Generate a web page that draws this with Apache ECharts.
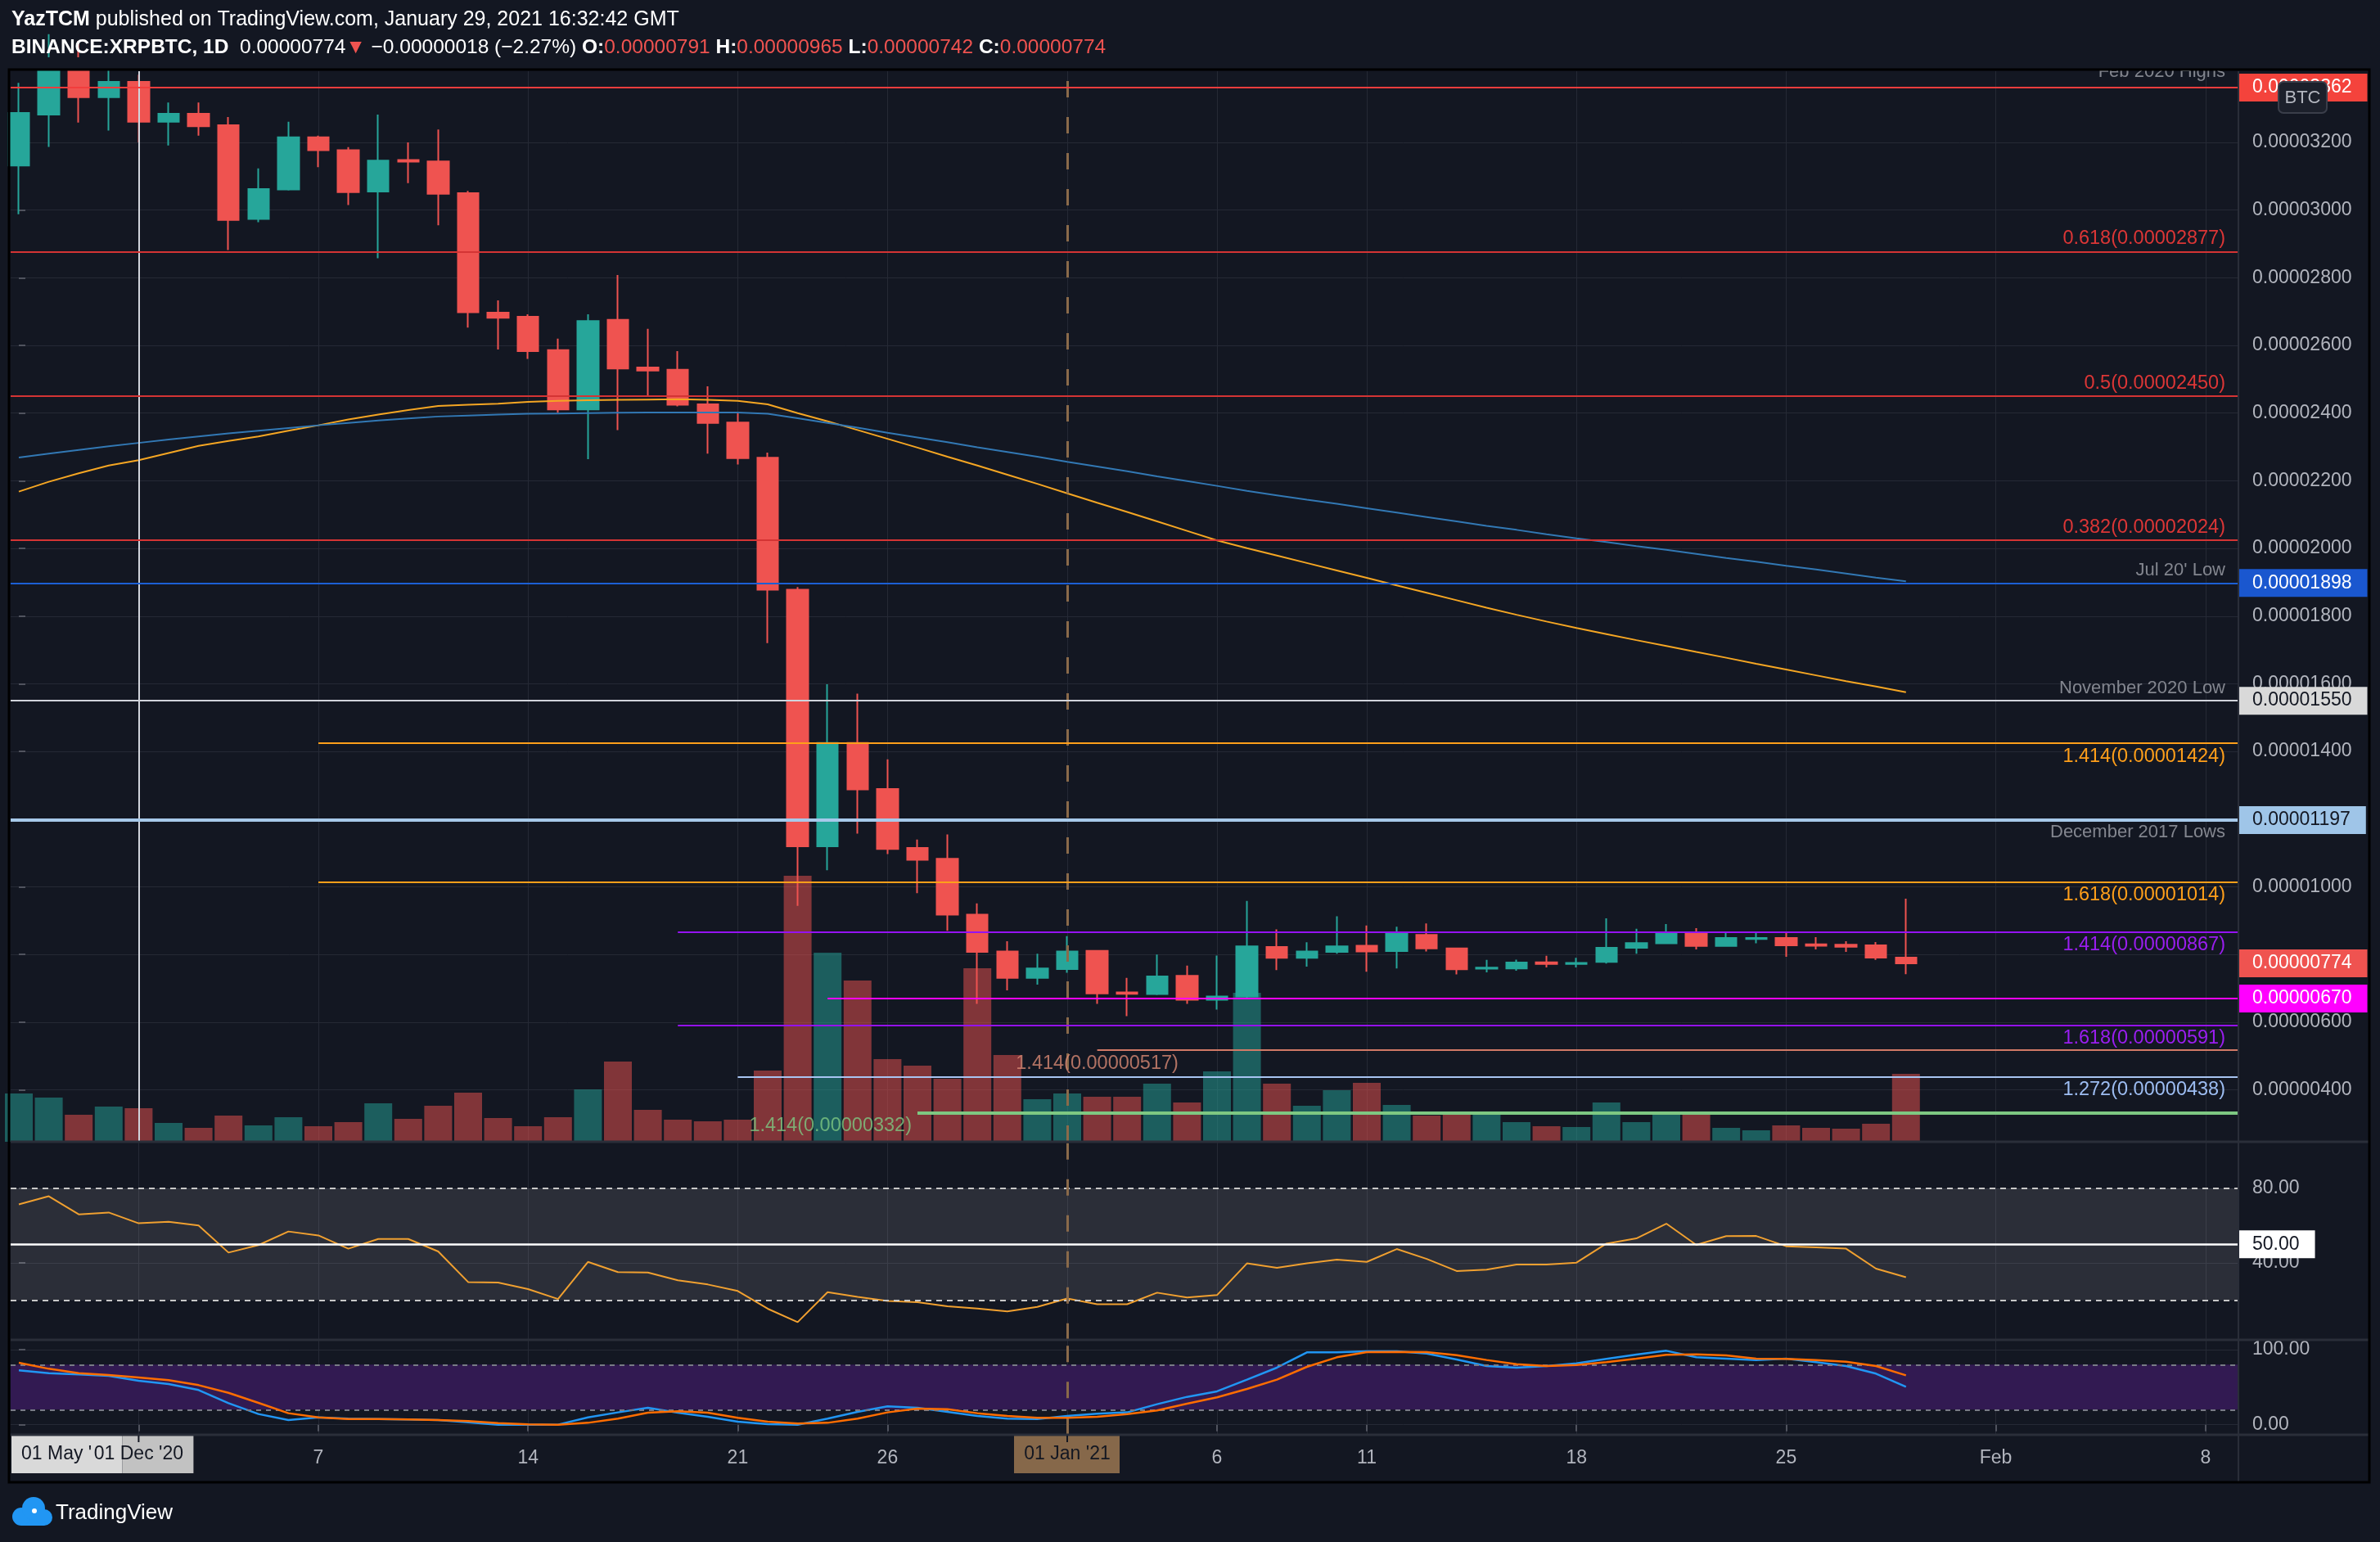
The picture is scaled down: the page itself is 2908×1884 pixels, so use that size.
<!DOCTYPE html>
<html>
<head>
<meta charset="utf-8">
<title>XRPBTC 1D</title>
<script src="https://cdn.jsdelivr.net/npm/echarts@6/dist/echarts.min.js"></script>
<style>
  html, body { margin: 0; padding: 0; background: #131722; }
  #main { width: 2908px; height: 1884px; }
</style>
</head>
<body>
<div id="main"></div>
<script>
// prices are in satoshi (1e-8 BTC), one candle per day from 27 Nov 2020
var days = ['2020-11-27','2020-11-28','2020-11-29','2020-11-30',
  '2020-12-01','2020-12-02','2020-12-03','2020-12-04','2020-12-05','2020-12-06','2020-12-07','2020-12-08',
  '2020-12-09','2020-12-10','2020-12-11','2020-12-12','2020-12-13','2020-12-14','2020-12-15','2020-12-16',
  '2020-12-17','2020-12-18','2020-12-19','2020-12-20','2020-12-21','2020-12-22','2020-12-23','2020-12-24',
  '2020-12-25','2020-12-26','2020-12-27','2020-12-28','2020-12-29','2020-12-30','2020-12-31',
  '2021-01-01','2021-01-02','2021-01-03','2021-01-04','2021-01-05','2021-01-06','2021-01-07','2021-01-08',
  '2021-01-09','2021-01-10','2021-01-11','2021-01-12','2021-01-13','2021-01-14','2021-01-15','2021-01-16',
  '2021-01-17','2021-01-18','2021-01-19','2021-01-20','2021-01-21','2021-01-22','2021-01-23','2021-01-24',
  '2021-01-25','2021-01-26','2021-01-27','2021-01-28','2021-01-29'];

var openP  = [3132,3282,3445,3334,3379,3261,3285,3251,2974,3061, 3215,3177,3055,3148,3144,3050,2697,2685,2586,2411,
              2676,2535,2528,2426,2372,2268,1878,1120,1425,1289, 1115,1083,918,809,731,757,811,688,683,737,
              666,676,822,790,808,826,810,858,818,758, 759,777,772,778,820,833,866,825,846,849, 830,829,827,791];
var highP  = [3376,3520,3500,3440,3400,3318,3318,3275,3123,3261, 3220,3186,3282,3200,3238,3057,2733,2692,2620,2692,
              2808,2649,2583,2479,2402,2283,1886,1599,1571,1377, 1140,1155,951,839,802,854,812,731,800,767,
              797,958,874,836,913,886,882,892,820,784, 785,796,790,907,876,890,878,866,865,866, 851,839,837,965];
var lowP   = [2988,3187,3259,3235,3200,3191,3220,2882,2964,3058, 3127,3015,2858,3080,2955,2653,2588,2560,2401,2264,
              2350,2449,2420,2280,2248,1720,944,1049,1157,1097, 981,870,654,694,711,746,654,618,680,654,
              637,670,754,764,802,749,759,809,741,747, 752,762,762,773,802,831,815,825,833,793, 815,808,784,742];
var closeP = [3287,3445,3334,3379,3261,3285,3248,2971,3062,3215, 3177,3053,3146,3143,3048,2698,2682,2583,2411,2672,
              2532,2526,2425,2371,2267,1878,1120,1425,1288,1112, 1080,918,808,731,759,809,685,684,735,666,
              676,824,790,809,824,809,861,818,756,761, 776,772,775,820,834,866,825,849,849,827, 826,823,791,774];
var volume = [59,54,33,43,41,23,17,32,20,30, 19,24,47,28,44,60,29,19,30,64, 98,39,27,25,27,87,325,231,197,101,
              93,77,212,106,52,59,55,55,71,48, 86,182,71,44,63,72,45,32,33,33, 24,19,18,48,24,33,33,17,14,20, 17,16,22,83];
var maOrange = [2168,2197,2222,2245,2261,2282,2303,2318,2331,2348, 2364,2381,2396,2409,2421,2425,2428,2433,2436,2438,
                2439,2440,2441,2439,2436,2426,2400,2376,2350,2324, 2298,2271,2245,2218,2191,2163,2135,2108,2080,2052,
                2024,2001,1979,1957,1935,1913,1891,1869,1847,1825, 1804,1784,1765,1747,1729,1712,1694,1677,1659,1642,
                1625,1608,1592,1575];
var maBlue = [2269,2280,2291,2302,2312,2322,2331,2340,2348,2356, 2364,2371,2378,2384,2390,2393,2396,2398,2399,2400,
              2401,2402,2402,2402,2402,2398,2385,2371,2357,2342, 2328,2314,2299,2285,2271,2256,2242,2228,2213,2199,
              2185,2170,2157,2144,2132,2119,2106,2093,2080,2067, 2055,2042,2030,2019,2007,1996,1984,1972,1961,1949,
              1938,1926,1914,1903];
var rsi = [71.4,75.8,66.1,67.1,61.3,62.1,60.1,45.6,49.6,56.9, 54.8,47.7,52.9,52.9,46.2,29.8,29.5,26.0,20.7,40.6,
           35.1,34.9,30.7,28.5,25.0,15.5,8.3,24.4,21.9,19.7, 19.0,16.8,15.6,14.1,16.5,21.0,17.9,17.9,24.1,21.5,
           22.8,39.8,37.4,39.8,41.8,40.6,47.5,42.2,35.7,36.4, 39.2,39.2,40.2,50.4,53.2,61.1,49.7,54.4,54.5,49.0,
           48.4,47.7,37.0,32.4];
var stochK = [72.4,68.7,66.9,65.1,58.5,54.2,46.2,28.7,14.2,6.2, 9.8,8.0,7.6,6.9,6.2,3.3,0,0,0,9.8,
              16.4,22.5,16.0,10.5,4.0,0.7,0,8.0,17.1,24.4, 22.5,17.1,11.6,8.0,7.6,11.6,14.5,16.4,27.3,37.1,
              44.4,60.0,76.0,96.4,96.4,97.8,97.8,94.9,86.9,78.2, 76.0,78.2,81.8,87.6,93.5,98.5,89.8,88.0,86.2,88.0,
              83.3,78.2,68.0,50.5];
var stochD = [82.5,74.5,68.7,66.2,62.9,59.3,52.7,42.5,29.1,15.3, 9.8,7.6,7.6,6.9,6.2,4.7,2.2,0.4,0,2.5,
              8.0,16.0,17.8,16.0,9.1,4.0,1.5,2.5,8.0,16.4, 21.5,20.7,15.3,11.6,9.1,9.1,10.5,14.2,18.9,28.0,
              36.4,47.6,60.0,77.1,89.8,96.7,97.1,96.7,92.7,86.2, 80.7,78.2,79.6,83.3,88.0,93.1,93.8,92.4,88.0,87.6,
              86.2,84.0,78.2,65.8];

// tick labels (the 800 label sits under the last-price tag, so it is not printed)
var priceTicks  = [400,600,800,1000,1200,1400,1600,1800,2000,2200,2400,2600,2800,3000,3200];
var priceLabels = [400,600,1000,1200,1400,1600,1800,2000,2200,2400,2600,2800,3000,3200];
var xTickIdx  = [4,10,17,24,29,35,40,45,52,59,66,73];
var xTickText = ['Dec','7','14','21','26','2021','6','11','18','25','Feb','8'];

// drawn levels: price, first day index (null = whole chart), name
var levelPrice = [3362,2877,2450,2024,1898,1550,1424,1197,1014,867,670,591,517,438,332];
var levelStart = [null,null,null,null,null,null,10,null,10,22,27,22,36,24,30];
var levelName  = ['Feb 2020 Highs','0.618','0.5','0.382',"Jul 20' Low",'November 2020 Low','1.414',
                  'December 2017 Lows','1.618','1.414','','1.618','1.414','1.272','1.414'];
// price tags on the right scale
var tagPrice = [3362,1898,1550,1197,774,670];
var dec1 = 4, jan1 = 35;

var FONT = "'Liberation Sans', Arial, sans-serif";
var BG = '#131722';
var GRIDC = '#252935';
var AXTXT = '#b2b5be';
var XMIN = -10 / 36.6, XMAX = 2712 / 36.6;

function fmtPrice(v) { return (v / 1e8).toFixed(8); }

// style per level, same order as levelPrice
var levelStyle = [
  {c: '#f23d3d', w: 2, t: '#83868f', pos: 'top', up: 8},
  {c: '#d43434', w: 2, t: '#dc3636', pos: 'top'},
  {c: '#d43434', w: 2, t: '#dc3636', pos: 'top'},
  {c: '#d43434', w: 2, t: '#dc3636', pos: 'top'},
  {c: '#1c5fd4', w: 2, t: '#83868f', pos: 'top'},
  {c: '#d1d4dc', w: 2, t: '#83868f', pos: 'top'},
  {c: '#ff9f1a', w: 2, t: '#ff9f1a', pos: 'bottom'},
  {c: '#a7c9ea', w: 4, t: '#83868f', pos: 'bottom'},
  {c: '#ff9f1a', w: 2, t: '#ff9f1a', pos: 'bottom'},
  {c: '#9512f2', w: 2, t: '#9a1ef0', pos: 'bottom'},
  {c: '#ff00ff', w: 2, t: '#ff00ff', pos: 'none'},
  {c: '#9512f2', w: 2, t: '#9a1ef0', pos: 'bottom'},
  {c: '#d27a66', w: 2, t: '#d98a74', pos: 'none'},
  {c: '#a8c4f2', w: 2, t: '#9dbdf2', pos: 'bottom'},
  {c: '#7ec882', w: 4, t: '#7ec882', pos: 'none'}
];
var tagStyle = [
  {bg: '#f4433c', fg: '#ffffff'},
  {bg: '#1a57cf', fg: '#ffffff'},
  {bg: '#d9d9d9', fg: '#131722'},
  {bg: '#9fc5e8', fg: '#131722'},
  {bg: '#ef5350', fg: '#ffffff'},
  {bg: '#ff00ff', fg: '#ffffff'}
];

function isFib(k) { return !isNaN(parseFloat(levelName[k])); }
function levelText(k) {
  var n = levelName[k];
  if (!n) return '';
  return isFib(k) ? n + '(' + fmtPrice(levelPrice[k]) + ')' : n;
}

var levelLines = levelPrice.map(function (p, k) {
  var st = levelStyle[k];
  return [{
    coord: [levelStart[k] == null ? XMIN : levelStart[k], p],
    lineStyle: {color: st.c, width: st.w, type: 'solid'},
    label: {
      show: st.pos !== 'none',
      position: st.pos === 'top' ? 'insideEndTop' : 'insideEndBottom',
      formatter: levelText(k),
      color: st.t, fontSize: isFib(k) ? 23.5 : 22, fontFamily: FONT,
      distance: [16, st.up || 4]
    }
  }, {coord: [XMAX, p]}];
});

var tagLines = tagPrice.map(function (p, k) {
  return [{
    coord: [XMAX - 1, p],
    lineStyle: {color: 'rgba(0,0,0,0)', width: 1, opacity: 1},
    label: {
      show: true, position: 'end', distance: 0, opacity: 1,
      formatter: fmtPrice(p),
      backgroundColor: tagStyle[k].bg, color: tagStyle[k].fg,
      fontSize: 23, fontFamily: FONT, lineHeight: 24,
      padding: [5, 19, 5, 17]
    }
  }, {coord: [XMAX, p]}];
});

var janLine = {xAxis: jan1, lineStyle: {color: '#8a6a4a', width: 3, type: [20, 24]}};

function makeX(gi, show) {
  return {
    type: 'value', gridIndex: gi, min: XMIN, max: XMAX,
    axisLine: {show: false},
    axisTick: {show: show, customValues: xTickIdx, length: 8, lineStyle: {color: '#50535e', width: 2}},
    axisLabel: {
      show: show, customValues: xTickIdx, margin: 18,
      color: AXTXT, fontSize: 23, fontFamily: FONT,
      formatter: function (v) { var k = xTickIdx.indexOf(v); return k >= 0 ? xTickText[k] : ''; }
    },
    splitLine: {show: true, lineStyle: {color: GRIDC, width: 1}}
  };
}

function rightAxis(gi, min, max, ticks, labels, fmt) {
  return {
    type: 'value', gridIndex: gi, position: 'right', min: min, max: max,
    axisLine: {show: false},
    axisTick: {show: true, customValues: ticks, length: 8, lineStyle: {color: '#50535e', width: 2}},
    axisLabel: {customValues: labels, formatter: fmt, color: AXTXT, fontSize: 23, fontFamily: FONT, margin: 17},
    splitLine: {show: true, lineStyle: {color: GRIDC, width: 1}}
  };
}

var chart = echarts.init(document.getElementById('main'));

var option = {
  animation: false,
  backgroundColor: BG,
  textStyle: {fontFamily: FONT},
  title: [{
    left: 14, top: 12, padding: 0,
    text: '{b|YazTCM} published on TradingView.com, January 29, 2021 16:32:42 GMT',
    textStyle: {color: '#ffffff', fontSize: 25, fontWeight: 'normal', fontFamily: FONT,
      rich: {b: {color: '#ffffff', fontSize: 25, fontWeight: 'bold', fontFamily: FONT}}}
  }, {
    left: 14, top: 46, padding: 0,
    text: '{b|BINANCE:XRPBTC, 1D}  0.00000774{r|\u25BC} \u22120.00000018 (\u22122.27%) {b|O:}{r|0.00000791} {b|H:}{r|0.00000965} {b|L:}{r|0.00000742} {b|C:}{r|0.00000774}',
    textStyle: {color: '#ffffff', fontSize: 24.5, fontWeight: 'normal', fontFamily: FONT,
      rich: {
        b: {color: '#ffffff', fontSize: 24.5, fontWeight: 'bold', fontFamily: FONT},
        r: {color: '#ef5350', fontSize: 24.5, fontFamily: FONT}
      }}
  }],
  grid: [
    {left: 13, top: 87, width: 2722, height: 1308, outerBoundsMode: 'none'},
    {left: 13, top: 1395, width: 2722, height: 241.7, outerBoundsMode: 'none'},
    {left: 13, top: 1636.7, width: 2722, height: 115.6, outerBoundsMode: 'none'}
  ],
  xAxis: [makeX(0, false), makeX(1, false), makeX(2, true)],
  yAxis: [
    rightAxis(0, 246.5, 3410.5, priceTicks, priceLabels, fmtPrice),
    {type: 'value', gridIndex: 0, min: 0, max: 1308, show: false, splitLine: {show: false}},
    rightAxis(1, -1.05, 105, [40, 80], [40, 80], function (v) { return v.toFixed(2); }),
    rightAxis(2, -12.7, 113.4, [0, 100], [0, 100], function (v) { return v.toFixed(2); })
  ],
  series: [
    {
      name: 'Volume', type: 'bar', xAxisIndex: 0, yAxisIndex: 1, barWidth: 34, z: 1,
      data: volume.map(function (v, i) {
        return {value: [i, v], itemStyle: {color: closeP[i] >= openP[i] ? 'rgba(38,166,154,0.5)' : 'rgba(239,83,80,0.5)'}};
      })
    },
    {
      name: 'XRPBTC', type: 'candlestick', xAxisIndex: 0, yAxisIndex: 0, barWidth: 26, z: 3,
      encode: {x: 0, y: [1, 2, 3, 4]},
      data: openP.map(function (o, i) { return [i, o, closeP[i], lowP[i], highP[i]]; }),
      itemStyle: {color: '#26a69a', color0: '#ef5350', borderColor: '#26a69a', borderColor0: '#ef5350', borderWidth: 2},
      markLine: {
        silent: true, symbol: ['none', 'none'], label: {show: false},
        data: [
          {xAxis: dec1, lineStyle: {color: '#d1d4dc', width: 2, type: 'solid'}},
          janLine
        ]
      }
    },
    {
      name: 'MA fast', type: 'line', xAxisIndex: 0, yAxisIndex: 0, symbol: 'none', z: 4,
      lineStyle: {color: '#f5a623', width: 2},
      data: maOrange.map(function (v, i) { return [i, v]; })
    },
    {
      name: 'MA slow', type: 'line', xAxisIndex: 0, yAxisIndex: 0, symbol: 'none', z: 4,
      lineStyle: {color: '#3278b4', width: 2},
      data: maBlue.map(function (v, i) { return [i, v]; })
    },
    {
      name: 'Levels', type: 'line', xAxisIndex: 0, yAxisIndex: 0, data: [],
      markLine: {silent: true, symbol: ['none', 'none'], z: 6, label: {show: false}, data: levelLines}
    },
    {
      name: 'Tags', type: 'line', xAxisIndex: 0, yAxisIndex: 0, data: [],
      markLine: {silent: true, symbol: ['none', 'none'], z: 7, label: {show: true}, data: tagLines}
    },
    {
      name: 'Level notes', type: 'scatter', xAxisIndex: 0, yAxisIndex: 0, symbolSize: 0, z: 6,
      data: [
        {value: [levelStart[12], levelPrice[12]],
         label: {show: true, position: 'bottom', distance: 4, formatter: levelText(12),
                 color: levelStyle[12].t, fontSize: 23.5, fontFamily: FONT}},
        {value: [levelStart[14], levelPrice[14]],
         label: {show: true, position: 'left', distance: 7, offset: [0, 16], formatter: levelText(14),
                 color: levelStyle[14].t, fontSize: 23.5, fontFamily: FONT}}
      ]
    },
    {
      name: 'RSI', type: 'line', xAxisIndex: 1, yAxisIndex: 2, symbol: 'none', z: 4,
      lineStyle: {color: '#f0a030', width: 2},
      data: rsi.map(function (v, i) { return [i, v]; }),
      markArea: {silent: true, itemStyle: {color: 'rgba(255,255,255,0.1)'}, data: [[{yAxis: 20}, {yAxis: 80}]]},
      markLine: {
        silent: true, symbol: ['none', 'none'], label: {show: false},
        data: [
          {yAxis: 80, lineStyle: {color: '#c8c8c8', width: 2, type: [7, 6]}},
          {yAxis: 20, lineStyle: {color: '#c8c8c8', width: 2, type: [7, 6]}},
          {yAxis: 50, lineStyle: {color: '#ffffff', width: 2.5, type: 'solid'},
           label: {show: true, position: 'end', distance: 0, formatter: '50.00', backgroundColor: '#ffffff',
                   color: '#131722', fontSize: 23, fontFamily: FONT, lineHeight: 24, padding: [5, 19, 5, 17]}},
          janLine
        ]
      }
    },
    {
      name: '%K', type: 'line', xAxisIndex: 2, yAxisIndex: 3, symbol: 'none', z: 4,
      lineStyle: {color: '#2196f3', width: 2.5},
      data: stochK.map(function (v, i) { return [i, v]; }),
      markArea: {silent: true, itemStyle: {color: '#321a52'}, data: [[{yAxis: 20}, {yAxis: 80}]]},
      markLine: {
        silent: true, symbol: ['none', 'none'], label: {show: false},
        data: [
          {yAxis: 80, lineStyle: {color: '#787b86', width: 2, type: [6, 6]}},
          {yAxis: 20, lineStyle: {color: '#787b86', width: 2, type: [6, 6]}},
          janLine
        ]
      }
    },
    {
      name: '%D', type: 'line', xAxisIndex: 2, yAxisIndex: 3, symbol: 'none', z: 5,
      lineStyle: {color: '#ff6d00', width: 2.5},
      data: stochD.map(function (v, i) { return [i, v]; })
    }
  ]
};

chart.setOption(option);

// overlays: pane frame, date flags under the vertical drawings, logo
var xDec = chart.convertToPixel({xAxisIndex: 2}, dec1);
var xJan = chart.convertToPixel({xAxisIndex: 2}, jan1);
var axTop = 1754, axH = 46;

function txt(s, x, y, color, size, align, weight) {
  return {type: 'text', z: 60, style: {text: s, x: x, y: y, fill: color, align: align || 'left',
    textAlign: align || 'left', verticalAlign: 'middle', textVerticalAlign: 'middle',
    font: (weight || 'normal') + ' ' + size + 'px ' + FONT}};
}
function rect(x, y, w, h, fill, extra) {
  var r = {type: 'rect', z: 55, shape: {x: x, y: y, width: w, height: h}, style: {fill: fill}};
  if (extra) { r.shape.r = extra.r; r.style.stroke = extra.stroke; r.style.lineWidth = extra.lw; }
  return r;
}
function line(x1, y1, x2, y2, color, w) {
  return {type: 'line', z: 58, shape: {x1: x1, y1: y1, x2: x2, y2: y2}, style: {stroke: color, lineWidth: w}};
}

chart.setOption({
  graphic: [
    rect(13, 70, 2722, 16, BG),
    line(13, 1395, 2894, 1395, '#2a2e39', 3),
    line(13, 1637, 2894, 1637, '#2a2e39', 3),
    line(13, 1753, 2894, 1753, '#2a2e39', 3),
    line(2735, 87, 2735, 1810, '#2a2e39', 2),
    {type: 'rect', z: 59, shape: {x: 11, y: 85, width: 2884, height: 1726},
     style: {fill: 'none', stroke: '#000000', lineWidth: 3}},
    // currency button
    rect(2784, 100, 59, 38, '#1c202b', {r: 6, stroke: '#3a3e4a', lw: 2}),
    txt('BTC', 2813.5, 120, AXTXT, 22, 'center'),
    // date flags on the time scale
    rect(14, axTop, xDec - 34, axH, '#d9d9d9'),
    txt("01 May '", 26, 1777, '#131722', 23, 'left'),
    rect(xDec - 20, axTop, 87, axH, '#c2c2c2'),
    txt("01 Dec '20", xDec, 1777, '#131722', 23, 'center'),
    line(xDec, axTop, xDec, axTop + 8, '#131722', 2),
    rect(xJan - 65, axTop, 129, axH, '#86684a'),
    txt("01 Jan '21", xJan, 1777, '#131722', 23, 'center'),
    line(xJan, axTop, xJan, axTop + 8, '#131722', 2),
    // logo
    {type: 'circle', z: 60, shape: {cx: 26, cy: 1853, r: 11}, style: {fill: '#2196f3'}},
    {type: 'circle', z: 60, shape: {cx: 41, cy: 1843, r: 14}, style: {fill: '#2196f3'}},
    {type: 'circle', z: 60, shape: {cx: 54, cy: 1854, r: 10}, style: {fill: '#2196f3'}},
    rect(26, 1850, 28, 14, '#2196f3'),
    line(30, 1858, 42, 1846, '#ffffff', 2),
    line(42, 1846, 50, 1856, '#ffffff', 2),
    {type: 'circle', z: 61, shape: {cx: 42, cy: 1846, r: 3}, style: {fill: '#ffffff'}},
    txt('TradingView', 68, 1849, '#ffffff', 26, 'left')
  ]
});
</script>
</body>
</html>
